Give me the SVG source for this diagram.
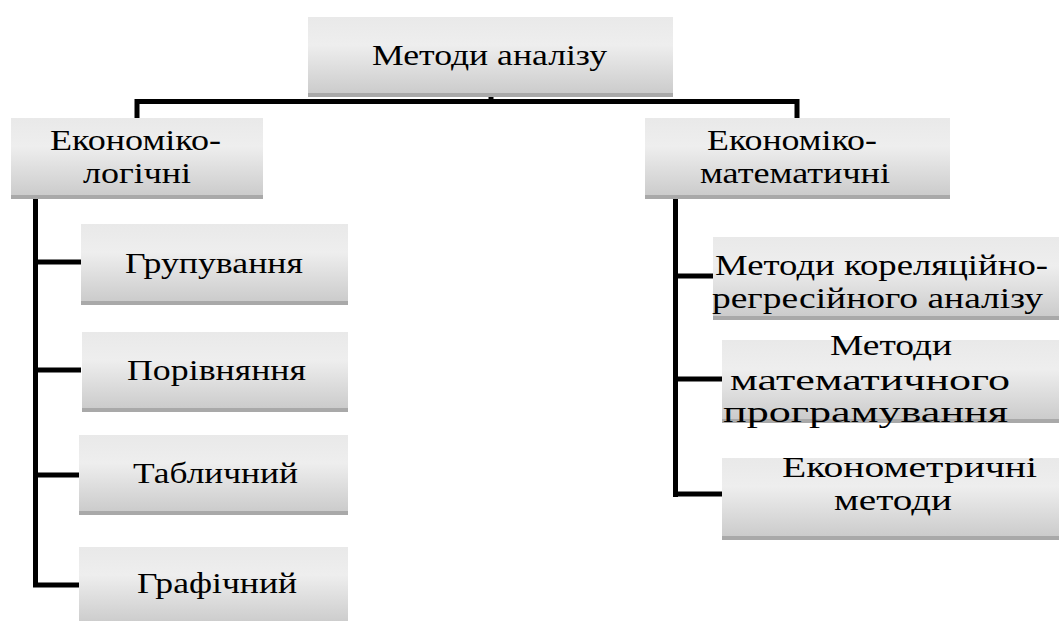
<svg xmlns="http://www.w3.org/2000/svg" width="1059" height="621" viewBox="0 0 1059 621">
<defs>
<linearGradient id="g" x1="0" y1="0" x2="0" y2="1">
<stop offset="0" stop-color="#e9e9e9"/>
<stop offset="0.35" stop-color="#eeeeee"/>
<stop offset="1" stop-color="#c9c9c9"/>
</linearGradient>
</defs>
<style>
.box{fill:url(#g);}
.sh{fill:#a9a9a9;}
.c{stroke:#000;stroke-width:5;fill:none;}
</style>
<rect width="1059" height="621" fill="#fff"/>
<g id="connectors">
<line class="c" x1="491" y1="96" x2="491" y2="101.5"/>
<polyline class="c" points="137,118 137,101.5 797,101.5 797,118"/>
<line class="c" x1="35.5" y1="199" x2="35.5" y2="587"/>
<line class="c" x1="33" y1="262" x2="81" y2="262"/>
<line class="c" x1="33" y1="370" x2="81" y2="370"/>
<line class="c" x1="33" y1="475" x2="80" y2="475"/>
<line class="c" x1="33" y1="585" x2="80" y2="585"/>
<line class="c" x1="675.5" y1="199" x2="675.5" y2="497"/>
<line class="c" x1="673" y1="276" x2="713" y2="276"/>
<line class="c" x1="673" y1="379" x2="722" y2="379"/>
<line class="c" x1="673" y1="494" x2="722" y2="494"/>
</g>
<g font-family="Liberation Serif, serif" font-size="30" fill="#000" text-anchor="start">
<g id="root">
<rect class="box" x="308" y="17" width="365" height="80"/>
<rect class="sh" x="308" y="93" width="365" height="4"/>
<text x="372" y="65" textLength="235" lengthAdjust="spacingAndGlyphs">Методи аналізу</text>
</g>
<g id="logic">
<rect class="box" x="11" y="118" width="252" height="81"/>
<rect class="sh" x="11" y="195" width="252" height="4"/>
<text x="50" y="150" textLength="171" lengthAdjust="spacingAndGlyphs">Економіко-</text>
<text x="83" y="183" textLength="108" lengthAdjust="spacingAndGlyphs">логічні</text>
</g>
<g id="math">
<rect class="box" x="645" y="118" width="305" height="81"/>
<rect class="sh" x="645" y="195" width="305" height="4"/>
<text x="707" y="150" textLength="170" lengthAdjust="spacingAndGlyphs">Економіко-</text>
<text x="700" y="183" textLength="190" lengthAdjust="spacingAndGlyphs">математичні</text>
</g>
<g id="grouping">
<rect class="box" x="81" y="224" width="267" height="81"/>
<rect class="sh" x="81" y="301" width="267" height="4"/>
<text x="125" y="273" textLength="178" lengthAdjust="spacingAndGlyphs">Групування</text>
</g>
<g id="comparison">
<rect class="box" x="82" y="332" width="266" height="80"/>
<rect class="sh" x="82" y="408" width="266" height="4"/>
<text x="127" y="380" textLength="179" lengthAdjust="spacingAndGlyphs">Порівняння</text>
</g>
<g id="table">
<rect class="box" x="79" y="435" width="269" height="80"/>
<rect class="sh" x="79" y="511" width="269" height="4"/>
<text x="133" y="483" textLength="165" lengthAdjust="spacingAndGlyphs">Табличний</text>
</g>
<g id="graphic">
<rect class="box" x="79" y="547" width="269" height="80"/>
<text x="137" y="593" textLength="160" lengthAdjust="spacingAndGlyphs">Графічний</text>
</g>
<g id="correlation">
<rect class="box" x="713" y="237" width="346" height="83"/>
<rect class="sh" x="713" y="316" width="346" height="4"/>
<text x="715" y="275" textLength="333" lengthAdjust="spacingAndGlyphs">Методи кореляційно-</text>
<text x="712" y="308" textLength="331" lengthAdjust="spacingAndGlyphs">регресійного аналізу</text>
</g>
<g id="programming">
<rect class="box" x="722" y="340" width="337" height="83"/>
<rect class="sh" x="722" y="419" width="337" height="4"/>
<text x="830" y="355" textLength="122" lengthAdjust="spacingAndGlyphs">Методи</text>
<text x="730" y="390" textLength="280" lengthAdjust="spacingAndGlyphs">математичного</text>
<text x="723" y="422" textLength="285" lengthAdjust="spacingAndGlyphs">програмування</text>
</g>
<g id="econometric">
<rect class="box" x="722" y="458" width="337" height="82"/>
<rect class="sh" x="722" y="536" width="337" height="4"/>
<text x="782" y="477" textLength="255" lengthAdjust="spacingAndGlyphs">Економетричні</text>
<text x="834" y="510" textLength="118" lengthAdjust="spacingAndGlyphs">методи</text>
</g>
</g>
</svg>
